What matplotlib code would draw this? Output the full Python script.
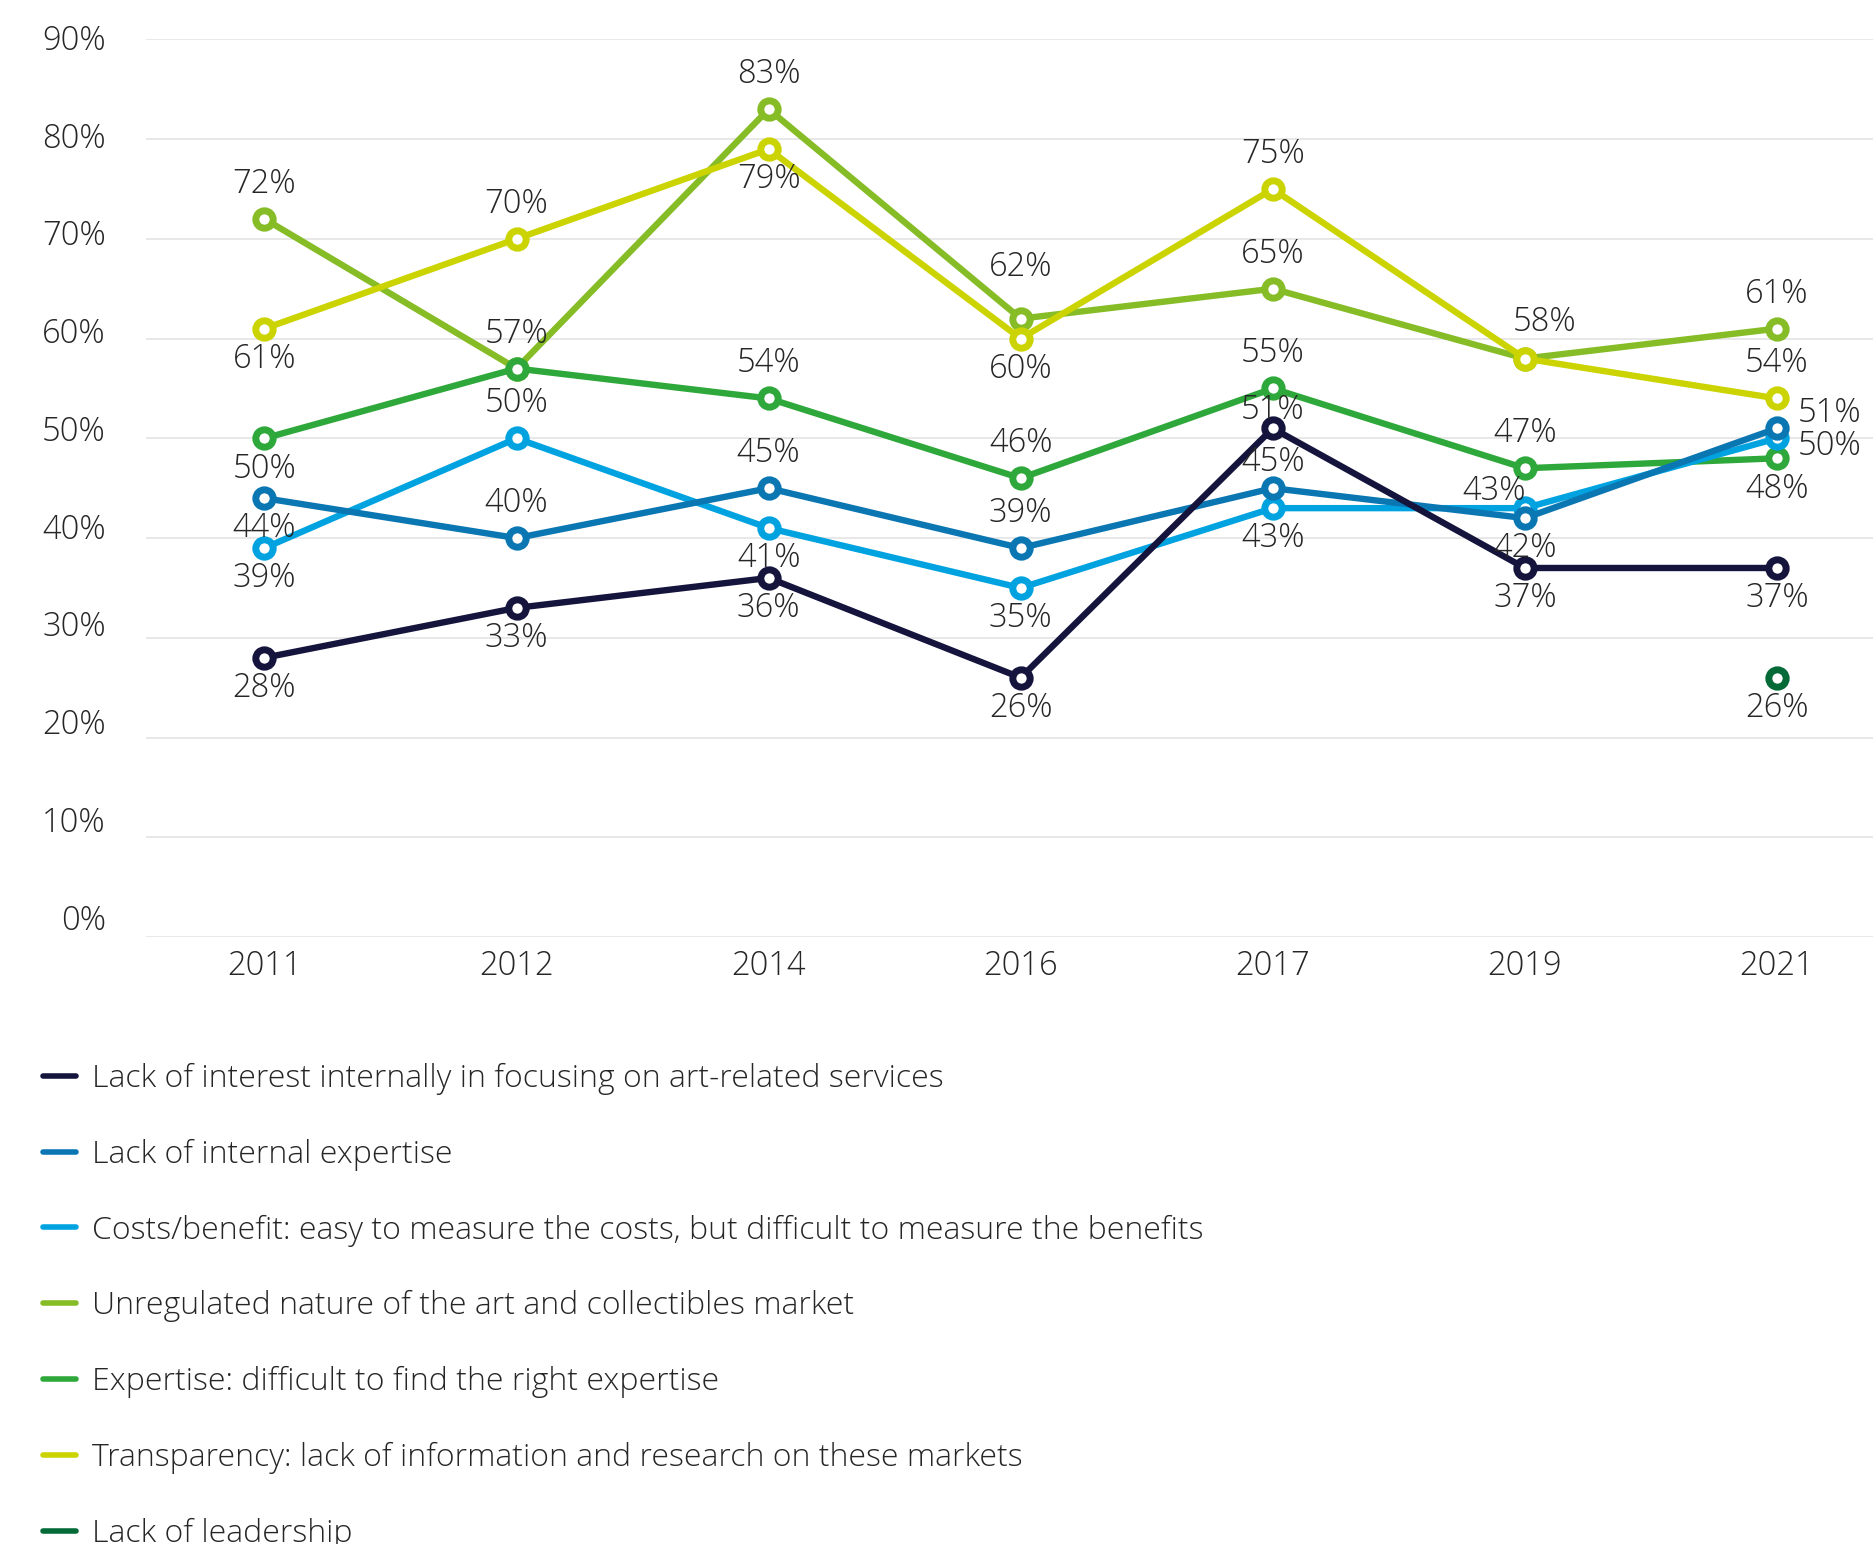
import numpy as np
import matplotlib.pyplot as plt
import matplotlib.transforms as mtransforms
from matplotlib.lines import Line2D
from matplotlib import font_manager

# ---- data -------------------------------------------------------------
years = ["2011", "2012", "2014", "2016", "2017", "2019", "2021"]

lack_of_interest = [28, 33, 36, 26, 51, 37, 37]
lack_of_internal_expertise = [44, 40, 45, 39, 45, 42, 51]
costs_benefit = [39, 50, 41, 35, 43, 43, 50]
unregulated_market = [72, 57, 83, 62, 65, 58, 61]
expertise_hard_to_find = [50, 57, 54, 46, 55, 47, 48]
transparency = [61, 70, 79, 60, 75, 58, 54]
lack_of_leadership = [np.nan, np.nan, np.nan, np.nan, np.nan, np.nan, 26]

series_names = [
    "Lack of interest internally in focusing on art-related services",
    "Lack of internal expertise",
    "Costs/benefit: easy to measure the costs, but difficult to measure the benefits",
    "Unregulated nature of the art and collectibles market",
    "Expertise: difficult to find the right expertise",
    "Transparency: lack of information and research on these markets",
    "Lack of leadership",
]
series_values = [
    lack_of_interest,
    lack_of_internal_expertise,
    costs_benefit,
    unregulated_market,
    expertise_hard_to_find,
    transparency,
    lack_of_leadership,
]

# ---- styling ----------------------------------------------------------
colors = ["#14143c", "#0a76b2", "#00a3e0", "#86bc25", "#2ea83a", "#cbd400", "#046a38"]
zorders = [9, 8, 7, 4, 6, 5, 9]

# where each value label sits relative to its point (None = no label)
label_pos = [
    ["b", "b", "b", "b", "as", "b", "b"],
    ["b", "a", "a", "a", "am", "b", "r+"],
    ["b", "a", "b", "b", "b", "al", "r-"],
    ["a", "a", "a", "ah", "a", "ar", "a"],
    ["b", None, "a", "a", "a", "a", "b"],
    ["b", "a", "b", "b", "a", None, "a"],
    [None, None, None, None, None, None, "b"],
]
offsets = {
    "a": (0, 25), "ah": (0, 37), "am": (0, 19), "as": (0, 13), "ar": (14, 26),
    "b": (0, -22), "r+": (38, 11), "r-": (38, -6), "al": (-22, 12),
}

available = {f.name for f in font_manager.fontManager.ttflist}
family = "Open Sans" if "Open Sans" in available else "DejaVu Sans"
plt.rcParams["font.family"] = family
text_color = "#262626"

fig = plt.figure(figsize=(18.74, 15.44), dpi=100)
ax = fig.add_axes([146 / 1874, 1 - 937 / 1544, 1 - 146 / 1874, (937 - 39.4) / 1544])

x = np.arange(len(years))
for name, vals, col, z, pos in zip(series_names, series_values, colors, zorders, label_pos):
    ax.plot(x, vals, color=col, lw=4.6, marker="o", ms=12.5, mew=5,
            mfc="white", mec=col, zorder=z, solid_capstyle="round", clip_on=False)
    for xi, v, p in zip(x, vals, pos):
        if p is None or np.isnan(v):
            continue
        dx, dy = offsets[p]
        ax.annotate(f"{v:.0f}%", (xi, v), xytext=(dx, dy), textcoords="offset points",
                    ha="center", va="center", fontsize=23.5, color=text_color,
                    fontweight="light", zorder=10)

yticks = np.arange(0, 91, 10)
ax.set_xlim(-0.47, 6.385)
ax.set_ylim(0, 90)
ax.set_xticks(x)
ax.set_xticklabels(years)
ax.set_yticks(yticks)
ax.set_yticklabels([f"{t}%" for t in yticks])
ax.tick_params(axis="both", length=0, labelsize=23.5, labelcolor=text_color)
ax.tick_params(axis="y", pad=29)
ax.tick_params(axis="x", pad=9)
for lab in ax.get_yticklabels() + ax.get_xticklabels():
    lab.set_fontweight("light")
# y labels sit a little above their gridlines, more so toward the bottom
for lab, t in zip(ax.get_yticklabels(), yticks):
    up_px = 20 - 17.6 * t / 90
    lab.set_transform(lab.get_transform()
                      + mtransforms.ScaledTranslation(0, up_px / 100, fig.dpi_scale_trans))

ax.grid(axis="y", color="#e6e6e6", lw=1.3)
ax.set_axisbelow(True)
for s in ax.spines.values():
    s.set_visible(False)

handles = [Line2D([], [], color=c, lw=4, solid_capstyle="round") for c in colors]
leg = fig.legend(handles, series_names, loc="upper left",
                 bbox_to_anchor=(30 / 1874, 1 - 1050 / 1544), frameon=False,
                 fontsize=23, handlelength=1.05, handletextpad=0.5,
                 labelspacing=1.37, borderaxespad=0)
for t in leg.get_texts():
    t.set_color(text_color)
    t.set_fontweight("light")

fig.savefig("out.png", dpi=100)
